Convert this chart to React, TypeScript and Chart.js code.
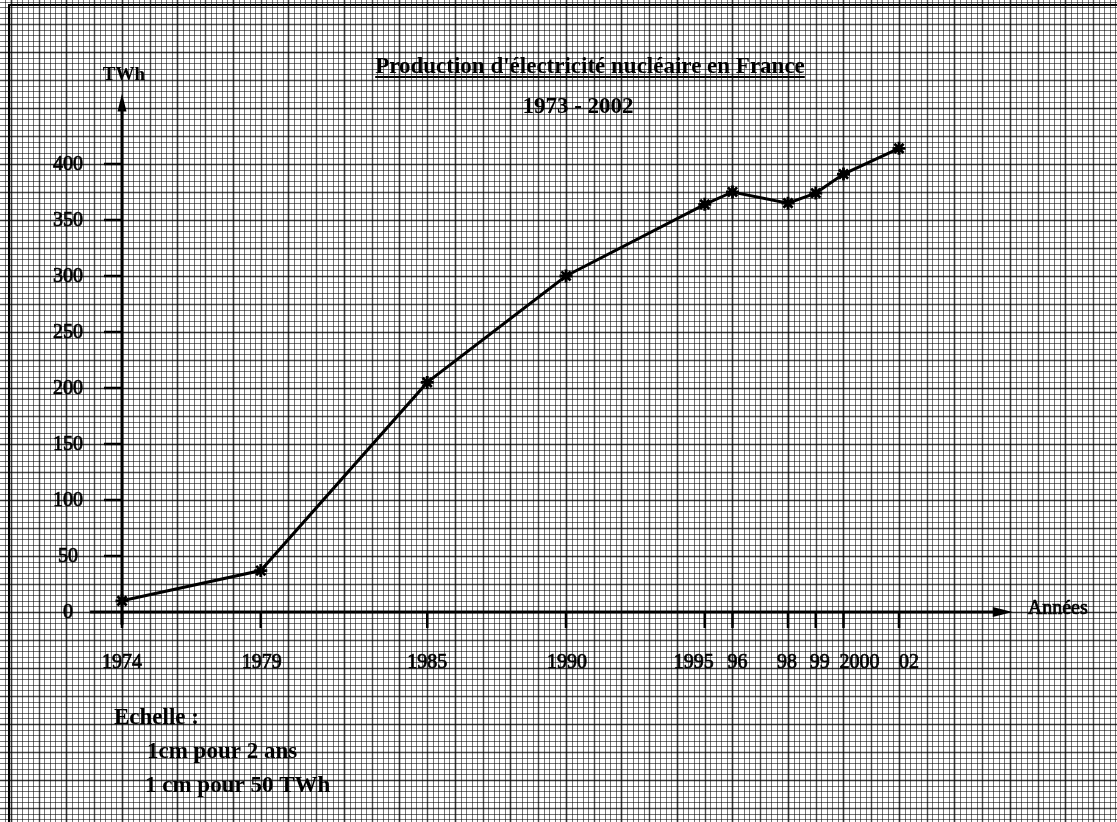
import React, { useEffect, useRef } from "react";
import { Chart, registerables } from "chart.js";

Chart.register(...registerables);

// ---- data ----
const YEARS = [1974, 1979, 1985, 1990, 1995, 1996, 1998, 1999, 2000, 2002];
const TWH = [10, 37, 205, 300, 364, 375, 365, 374, 391, 414];
const X_TICK_YEARS = [1974, 1979, 1985, 1990, 1995, 1996, 1998, 1999, 2000, 2002];
const X_TICK_LABELS = ["1974", "1979", "1985", "1990", "1995", "96", "98", "99", "2000", "02"];
const Y_TICKS = [0, 50, 100, 150, 200, 250, 300, 350, 400];
const TITLE = "Production d'électricité nucléaire en France";
const SUBTITLE = "1973 - 2002";
const Y_UNIT = "TWh";
const X_UNIT = "Années";
const SCALE_NOTE = ["Echelle :", "1cm pour 2 ans", "1 cm pour 50 TWh"];

// ---- style ----
const X_LABEL_NUDGE = [0, 1, 0, 1, -11, 5, -1, 4, 16, 10];
const FONT = '"Liberation Serif", "Times New Roman", serif';
const W = 1117;
const H = 822;

const heavyText = (ctx: any, s: string, px: number, py: number) => {
  ctx.fillText(s, px, py);
  ctx.lineWidth = 0.7;
  ctx.strokeText(s, px, py);
};

const paperPlugin = {
  id: "paper",
  beforeDraw(chart: any) {
    const ctx = chart.ctx;
    const x = chart.scales.x;
    const y = chart.scales.y;
    ctx.save();
    ctx.fillStyle = "#ffffff";
    ctx.fillRect(0, 0, W, H);
    const styleFor = (cm: boolean, half: boolean) => {
      ctx.strokeStyle = cm ? "rgba(0,0,0,0.8)" : half ? "rgba(0,0,0,0.72)" : "rgba(0,0,0,0.55)";
      ctx.lineWidth = cm ? 1.6 : half ? 1.4 : 1;
    };
    // vertical lines every 0.2 year (1 mm)
    const kx0 = Math.ceil(x.min * 5);
    const kx1 = Math.floor(x.max * 5);
    for (let k = kx0; k <= kx1; k++) {
      const px = Math.round(x.getPixelForValue(k / 5)) + 0.5;
      styleFor(k % 10 === 0, k % 5 === 0);
      ctx.beginPath();
      ctx.moveTo(px, 0);
      ctx.lineTo(px, H);
      ctx.stroke();
    }
    // horizontal lines every 5 TWh (1 mm)
    const ky0 = Math.ceil(y.min / 5);
    const ky1 = Math.floor(y.max / 5);
    for (let k = ky0; k <= ky1; k++) {
      const py = Math.round(y.getPixelForValue(k * 5)) + 0.5;
      styleFor(k % 10 === 0, k % 5 === 0);
      ctx.beginPath();
      ctx.moveTo(0, py);
      ctx.lineTo(W, py);
      ctx.stroke();
    }
    // frame
    ctx.strokeStyle = "#000";
    ctx.lineWidth = 2;
    ctx.beginPath();
    ctx.moveTo(9, H);
    ctx.lineTo(9, 5);
    ctx.lineTo(W, 5);
    ctx.stroke();
    ctx.restore();
  },
  beforeDatasetsDraw(chart: any) {
    const ctx = chart.ctx;
    const x = chart.scales.x;
    const y = chart.scales.y;
    const x0 = x.getPixelForValue(YEARS[0]);
    const y0 = y.getPixelForValue(0);
    ctx.save();
    ctx.strokeStyle = "#000";
    ctx.fillStyle = "#000";
    ctx.lineCap = "butt";

    // x axis
    const xStart = x.getPixelForValue(1972.85);
    const xTip = x.getPixelForValue(2006.1);
    ctx.lineWidth = 3;
    ctx.beginPath();
    ctx.moveTo(xStart, y0);
    ctx.lineTo(xTip - 18, y0);
    ctx.stroke();
    ctx.beginPath();
    ctx.moveTo(xTip, y0);
    ctx.lineTo(xTip - 20, y0 - 5);
    ctx.lineTo(xTip - 20, y0 + 5);
    ctx.closePath();
    ctx.fill();

    // y axis
    const yBottom = y.getPixelForValue(-11.5);
    const yTip = y.getPixelForValue(463);
    ctx.lineWidth = 3;
    ctx.beginPath();
    ctx.moveTo(x0, yBottom);
    ctx.lineTo(x0, yTip + 14);
    ctx.stroke();
    ctx.beginPath();
    ctx.moveTo(x0, yTip);
    ctx.lineTo(x0 - 4.5, yTip + 18);
    ctx.lineTo(x0 + 4.5, yTip + 18);
    ctx.closePath();
    ctx.fill();

    // x ticks + labels
    ctx.font = `20px ${FONT}`;
    ctx.textAlign = "center";
    ctx.textBaseline = "middle";
    X_TICK_YEARS.forEach((yr, i) => {
      const px = x.getPixelForValue(yr);
      ctx.lineWidth = 2.5;
      ctx.beginPath();
      ctx.moveTo(px, y0);
      ctx.lineTo(px, y0 + 16);
      ctx.stroke();
      heavyText(ctx, X_TICK_LABELS[i], px + X_LABEL_NUDGE[i], y0 + 51);
    });

    // y ticks + labels
    Y_TICKS.forEach((v) => {
      const py = y.getPixelForValue(v);
      if (v !== 0) {
        ctx.lineWidth = 2.5;
        ctx.beginPath();
        ctx.moveTo(x0 - 18, py);
        ctx.lineTo(x0, py);
        ctx.stroke();
      }
      heavyText(ctx, String(v), x0 - 54, py + 1);
    });

    // unit labels
    ctx.font = `bold 19px ${FONT}`;
    ctx.fillText(Y_UNIT, x0 + 2, 75);
    ctx.font = `20px ${FONT}`;
    ctx.textAlign = "left";
    heavyText(ctx, X_UNIT, xTip + 15, y0 - 3);

    // title
    ctx.font = `bold 23px ${FONT}`;
    ctx.textAlign = "center";
    ctx.textBaseline = "alphabetic";
    const tx = 590;
    ctx.fillText(TITLE, tx, 73);
    const tw = ctx.measureText(TITLE).width;
    ctx.lineWidth = 2;
    ctx.beginPath();
    ctx.moveTo(tx - tw / 2, 77);
    ctx.lineTo(tx + tw / 2, 77);
    ctx.stroke();
    ctx.fillText(SUBTITLE, 578, 113);

    // scale note
    ctx.textAlign = "left";
    ctx.textBaseline = "middle";
    ctx.fillText(SCALE_NOTE[0], 114, 718);
    ctx.fillText(SCALE_NOTE[1], 147, 752);
    ctx.fillText(SCALE_NOTE[2], 145, 786);
    ctx.restore();
  },
};

export default function App() {
  const ref = useRef<HTMLCanvasElement | null>(null);
  useEffect(() => {
    if (!ref.current) return;
    const chart = new Chart(ref.current, {
      type: "line",
      data: {
        datasets: [
          {
            label: "Production (TWh)",
            data: YEARS.map((yr, i) => ({ x: yr, y: TWH[i] })),
            borderColor: "#000",
            backgroundColor: "#000",
            borderWidth: 3,
            pointStyle: "star",
            pointRadius: 6.5,
            pointBorderWidth: 2.8,
            tension: 0,
            fill: false,
          },
        ],
      },
      options: {
        animation: false,
        responsive: false,
        devicePixelRatio: 1,
        layout: { padding: 0, autoPadding: false },
        plugins: {
          legend: { display: false },
          tooltip: { enabled: false },
          title: { display: false },
        },
        scales: {
          x: { type: "linear", display: false, min: 1969.604, max: 2009.856 },
          y: { type: "linear", display: false, min: -187.5, max: 546.4 },
        },
      },
      plugins: [paperPlugin],
    });
    return () => chart.destroy();
  }, []);
  return (
    <div style={{ position: "fixed", left: 0, top: 0, width: W, height: H }}>
      <canvas ref={ref} width={W} height={H} style={{ display: "block" }} />
    </div>
  );
}
